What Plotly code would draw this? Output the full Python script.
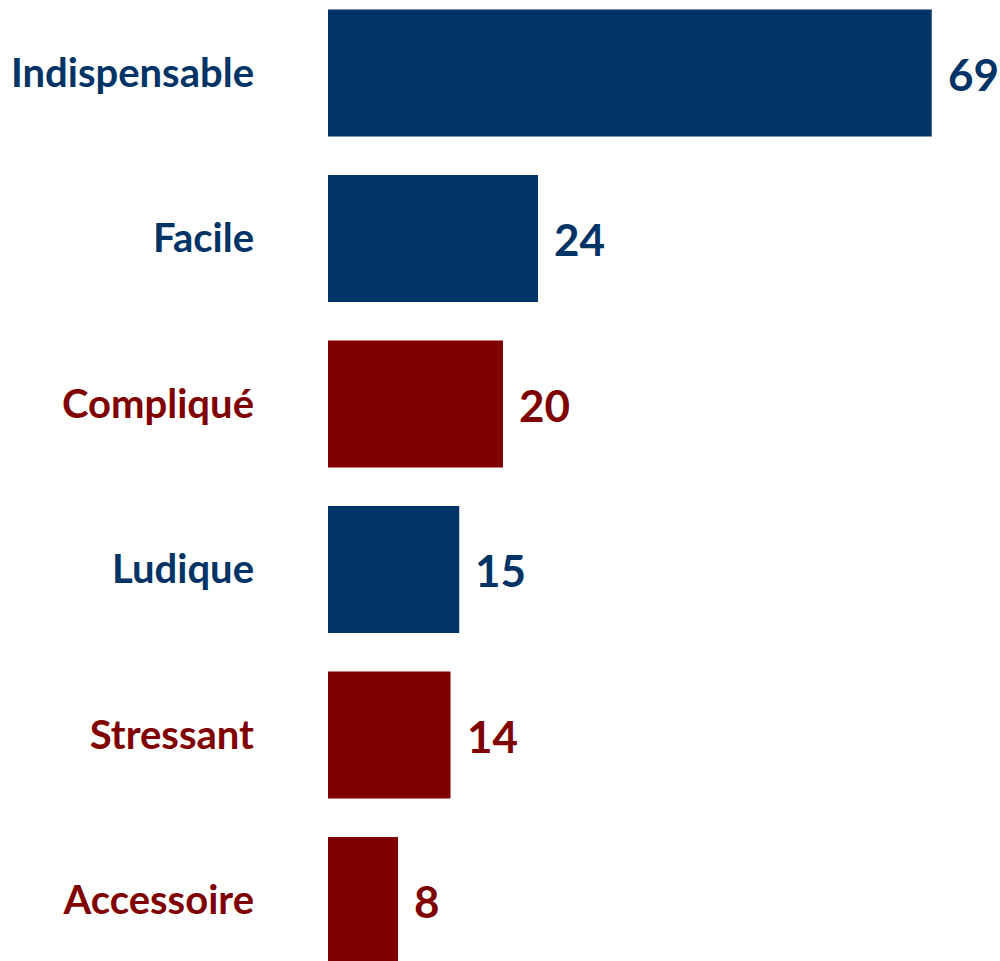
import plotly.graph_objects as go

# Données
categories = ["Indispensable", "Facile", "Compliqué", "Ludique", "Stressant", "Accessoire"]
values = [69, 24, 20, 15, 14, 8]
tones = ["pos", "pos", "neg", "pos", "neg", "neg"]

NAVY = "#003366"
MAROON = "#800000"
colors = [NAVY if t == "pos" else MAROON for t in tones]

FONT = "Lato"

tick_text = [
    f"<span style='color:{c}'>{cat}</span>" for cat, c in zip(categories, colors)
]

fig = go.Figure()

fig.add_trace(go.Bar(
    x=values,
    y=categories,
    orientation="h",
    marker=dict(color=colors, line=dict(width=0)),
    hoverinfo="skip",
))

# étiquettes de valeur à droite des barres
for cat, v, c in zip(categories, values, colors):
    fig.add_annotation(
        x=v, y=cat,
        text=str(v),
        showarrow=False,
        xanchor="left",
        yanchor="middle",
        xshift=14,
        yshift=-1,
        font=dict(family=FONT, size=44, color=c, weight="bold"),
    )

fig.update_layout(
    width=1000,
    height=961,
    margin=dict(l=328, r=0, t=0, b=0),
    paper_bgcolor="white",
    plot_bgcolor="white",
    showlegend=False,
    bargap=0.233,
    xaxis=dict(
        range=[0, 76.8],
        visible=False,
        fixedrange=True,
    ),
    yaxis=dict(
        categoryorder="array",
        categoryarray=categories,
        tickvals=categories,
        ticktext=tick_text,
        range=[5.366, -0.441],
        tickfont=dict(family=FONT, size=40, weight="bold"),
        ticks="",
        ticklabelstandoff=73,
        showgrid=False,
        zeroline=False,
        showline=False,
        fixedrange=True,
    ),
)

fig.write_html(
    "out.html",
    config={"displayModeBar": False},
    post_script="document.body.style.margin='0';",
)
